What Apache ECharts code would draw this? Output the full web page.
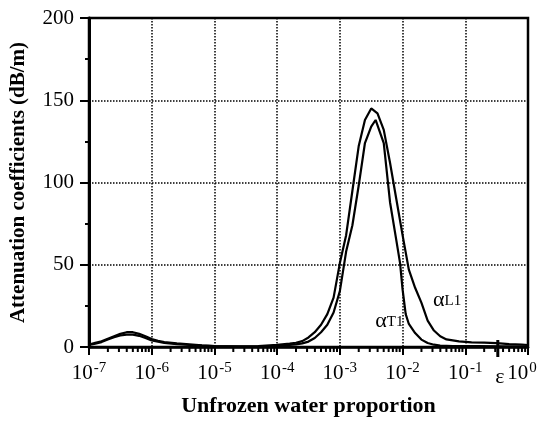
<!DOCTYPE html>
<html>
<head>
<meta charset="utf-8">
<script src="https://cdn.jsdelivr.net/npm/echarts@6/dist/echarts.min.js"></script>
<style>
html,body{margin:0;padding:0;background:#fff;}
#c{width:546px;height:422px;}
</style>
</head>
<body>
<div id="c"></div>
<script>
// log10 of unfrozen water proportion, and attenuation (dB/m)
var l1Exp = [-7.0,-6.9,-6.8,-6.7,-6.6,-6.5,-6.4,-6.3,-6.2,-6.1,-6.0,-5.9,-5.8,-5.6,-5.4,-5.2,-5.0,-4.6,-4.3,-4.0,-3.8,-3.7,-3.6,-3.5,-3.4,-3.3,-3.2,-3.1,-3.0,-2.9,-2.8,-2.7,-2.6,-2.5,-2.4,-2.3,-2.2,-2.1,-2.0,-1.9,-1.8,-1.7,-1.6,-1.5,-1.4,-1.3,-1.1,-0.9,-0.7,-0.5,-0.3,-0.1,0.0];
var l1Val = [1.5,2.5,3.5,5,6.5,8,9,9,8,6.5,4.8,3.8,3,2.2,1.6,1.0,0.6,0.4,0.6,1.3,2.0,2.6,3.6,5.8,9,13.5,20,30,51,68,95,122,138,145,142,132,112,90,68,47,36,27,16,10,6.5,4.6,3.4,2.8,2.6,2.3,1.8,1.4,1.2];
var t1Exp = [-7.0,-6.9,-6.8,-6.7,-6.6,-6.5,-6.4,-6.3,-6.2,-6.1,-6.0,-5.9,-5.8,-5.6,-5.4,-5.2,-5.0,-4.6,-4.3,-4.1,-3.9,-3.7,-3.6,-3.5,-3.4,-3.3,-3.2,-3.1,-3.0,-2.9,-2.8,-2.7,-2.6,-2.5,-2.43,-2.4,-2.3,-2.2,-2.1,-2.04,-2.0,-1.95,-1.9,-1.8,-1.7,-1.6,-1.5,-1.4,-1.2,-0.8,-0.4,0.0];
var t1Val = [1.2,2,3,4.5,6,7,7.5,7.5,6.8,5.5,4,3.2,2.5,1.8,1.2,0.8,0.5,0.3,0.4,0.6,1.0,1.6,2.2,3.3,5.5,9,13.5,21,34,58,74,98,124,134,138,137,124,88,65,51,35,20,14,8.5,4.5,2.4,1.4,0.9,0.6,0.5,0.4,0.3];
var decadeExps = [-7, -6, -5, -4, -3, -2, -1];
var minorMultipliers = [2, 3, 4, 5, 6, 7, 8, 9];
var epsilonValue = 0.33;
var labelT1 = {text: 'T1', exp: -2.21, val: 15.8};
var labelL1 = {text: 'L1', exp: -1.29, val: 28.6};

var SERIF = '"Liberation Serif", "DejaVu Serif", serif';

function toPairs(ex, vals) {
  return ex.map(function (e, i) { return [Math.pow(10, e), vals[i]]; });
}

var chart = echarts.init(document.getElementById('c'), null, {renderer: 'canvas'});
var option = {
  animation: false,
  backgroundColor: '#fff',
  grid: {left: 88, right: 18, top: 18, bottom: 75, show: true, borderColor: '#000', borderWidth: 2.5, backgroundColor: 'transparent'},
  xAxis: {
    type: 'log', logBase: 10, min: 1e-7, max: 1, splitNumber: 7,
    name: 'Unfrozen water proportion', nameLocation: 'middle', nameGap: 48,
    nameTextStyle: {fontFamily: SERIF, fontWeight: 'bold', fontSize: 22, color: '#000'},
    axisLine: {show: true, onZero: false, lineStyle: {color: '#000', width: 2.5}},
    axisTick: {show: true, length: 8, lineStyle: {color: '#000', width: 2}},
    minorTick: {show: false},
    splitLine: {show: true, lineStyle: {color: '#000', width: 1.5, type: 'dotted'}},
    axisLabel: {
      margin: 14, color: '#000',
      formatter: function (v) {
        var e = Math.round(Math.log10(v));
        if (e === 0) return '{b0|10}{s0|0}';
        return '{b|10}{s|' + e + '}';
      },
      rich: {
        b: {fontFamily: SERIF, fontSize: 21, color: '#000'},
        s: {fontFamily: SERIF, fontSize: 15, color: '#000', padding: [0, 0, 10, 1]},
        b0: {fontFamily: SERIF, fontSize: 21, color: '#000'},
        s0: {fontFamily: SERIF, fontSize: 15, color: '#000', padding: [0, 12, 10, 1]}
      }
    }
  },
  yAxis: {
    type: 'value', min: 0, max: 200, interval: 50,
    name: 'Attenuation coefficients (dB/m)', nameLocation: 'middle', nameGap: 60, nameRotate: 90,
    nameTextStyle: {fontFamily: SERIF, fontWeight: 'bold', fontSize: 21, color: '#000'},
    axisLine: {show: true, lineStyle: {color: '#000', width: 3}},
    axisTick: {show: true, length: 9, lineStyle: {color: '#000', width: 2}},
    minorTick: {show: true, splitNumber: 2, length: 4, lineStyle: {color: '#000', width: 2}},
    splitLine: {show: true, lineStyle: {color: '#000', width: 1.5, type: 'dotted'}},
    axisLabel: {margin: 15, color: '#000', fontFamily: SERIF, fontSize: 21}
  },
  series: [
    {type: 'line', name: 'L1', data: toPairs(l1Exp, l1Val), showSymbol: false, lineStyle: {color: '#000', width: 2.2}, z: 5},
    {type: 'line', name: 'T1', data: toPairs(t1Exp, t1Val), showSymbol: false, lineStyle: {color: '#000', width: 2.2}, z: 5}
  ]
};
chart.setOption(option);

function px(x, y) { return chart.convertToPixel({gridIndex: 0}, [x, y]); }
var p0 = px(epsilonValue, 0);
var pT = px(Math.pow(10, labelT1.exp), labelT1.val);
var pL = px(Math.pow(10, labelL1.exp), labelL1.val);
var alphaRich = {
  a: {fontFamily: SERIF, fontSize: 22, color: '#000'},
  s: {fontFamily: SERIF, fontSize: 15, color: '#000', padding: [0, 0, -2, 0]}
};
var graphics = [];
decadeExps.forEach(function (n) {
  minorMultipliers.forEach(function (k) {
    var p = px(k * Math.pow(10, n), 0);
    graphics.push({type: 'rect', shape: {x: p[0] - 1, y: p[1], width: 2, height: 5}, style: {fill: '#000'}, z: 10});
  });
});
graphics.push(
  {type: 'rect', shape: {x: p0[0] - 1.5, y: p0[1] - 7, width: 3, height: 17}, style: {fill: '#000'}, z: 10},
  {type: 'text', x: p0[0] + 2, y: p0[1] + 30, style: {text: 'ε', font: '22px ' + SERIF, fill: '#000', align: 'center', verticalAlign: 'middle'}, z: 10},
  {type: 'text', x: pT[0], y: pT[1], style: {text: '{a|α}{s|' + labelT1.text + '}', rich: alphaRich, align: 'center', verticalAlign: 'middle'}, z: 10},
  {type: 'text', x: pL[0], y: pL[1], style: {text: '{a|α}{s|' + labelL1.text + '}', rich: alphaRich, align: 'center', verticalAlign: 'middle'}, z: 10}
);
chart.setOption({graphic: graphics});
</script>
</body>
</html>
